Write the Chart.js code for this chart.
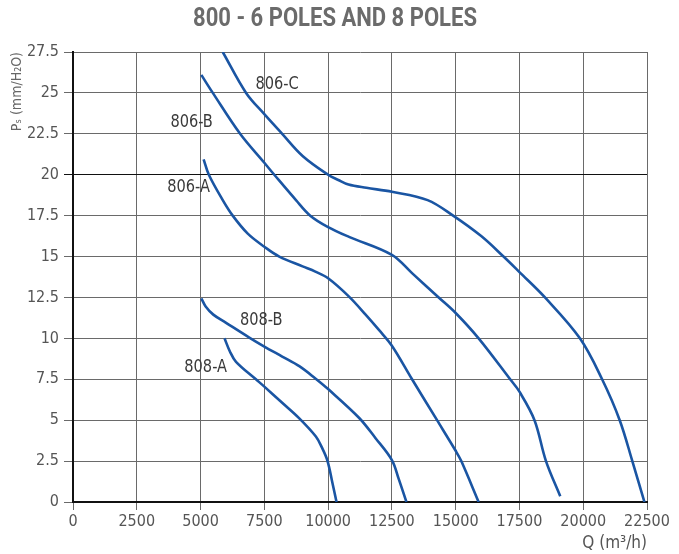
<!DOCTYPE html>
<html>
<head>
<meta charset="utf-8">
<script src="https://cdn.jsdelivr.net/npm/chart.js@4.4.1/dist/chart.umd.min.js"></script>
<style>
  html, body { margin: 0; padding: 0; background: #fff; }
</style>
</head>
<body>
<canvas id="fanChart" width="679" height="554"></canvas>
<script>
// 800 series fan curves, static pressure vs. air flow
const chartTitle = "800 - 6 POLES AND 8 POLES";
const xTicks = [0, 2500, 5000, 7500, 10000, 12500, 15000, 17500, 20000, 22500];
const yTicks = [0, 2.5, 5, 7.5, 10, 12.5, 15, 17.5, 20, 22.5, 25, 27.5];

const curveNames = ["806-C", "806-B", "806-A", "808-B", "808-A"];

// Q (m3/h)
const q806C = [5870, 6785, 7500, 8200, 9000, 10000, 10400, 10800, 11500, 12500, 13900, 14900, 16000, 16875, 17500, 18500, 19870, 20740, 21430, 21925, 22400];
const q806B = [5030, 5480, 6550, 7500, 7890, 8740, 9300, 10000, 10820, 12500, 13300, 14335, 15000, 15900, 17135, 17500, 18090, 18540, 19100];
const q806A = [5120, 5325, 5870, 6260, 6850, 7500, 8085, 9000, 9500, 10000, 10820, 11470, 12000, 12500, 13290, 14270, 15000, 15220, 15900];
const q808B = [5030, 5200, 5500, 6000, 6910, 7500, 8200, 8870, 9500, 10000, 11210, 11860, 12500, 12770, 13070];
const q808A = [5940, 6150, 6390, 7170, 7500, 8200, 8870, 9520, 9750, 9975, 10170, 10330];

// Ps (mm H2O)
const ps806C = [27.5, 25, 23.7, 22.5, 21.15, 20, 19.68, 19.4, 19.2, 18.96, 18.45, 17.5, 16.25, 15, 14.05, 12.5, 10, 7.5, 5, 2.5, 0];
const ps806B = [26.1, 25, 22.5, 20.73, 20, 18.45, 17.5, 16.8, 16.2, 15.1, 13.97, 12.5, 11.55, 10, 7.5, 6.74, 5, 2.5, 0.35];
const ps806A = [20.94, 20, 18.45, 17.5, 16.4, 15.6, 15, 14.4, 14.08, 13.67, 12.55, 11.45, 10.5, 9.55, 7.5, 5, 3.13, 2.5, 0];
const ps808B = [12.45, 11.95, 11.45, 10.95, 10.05, 9.5, 8.89, 8.3, 7.55, 6.9, 5.15, 3.9, 2.56, 1.4, 0];
const ps808A = [10.0, 9.2, 8.57, 7.5, 7.05, 6.06, 5.11, 4.0, 3.35, 2.52, 1.16, 0];

// where each curve name sits, in axis units
const labelQ = [8000, 4650, 4530, 7380, 5200];
const labelPs = [25.5, 23.2, 19.2, 11.1, 8.25];

const allQ = [q806C, q806B, q806A, q808B, q808A];
const allPs = [ps806C, ps806B, ps806A, ps808B, ps808A];

const narrow = "'Liberation Sans Narrow', 'DejaVu Sans Condensed', 'Roboto', sans-serif";
const blue = "#1a55a3";

const datasets = curveNames.map((name, i) => ({
  label: name,
  data: allQ[i].map((q, j) => ({ x: q, y: allPs[i][j] })),
  showLine: true,
  borderColor: blue,
  borderWidth: 2.6,
  pointRadius: 0,
  tension: 0.35,
  fill: false,
}));

// condensed bold heading, squeezed to a fixed width
const headingPlugin = {
  id: "heading",
  afterDraw(chart) {
    const ctx = chart.ctx;
    ctx.save();
    ctx.font = "bold 26px Roboto, 'DejaVu Sans', sans-serif";
    ctx.fillStyle = "#6b6b6b";
    ctx.textAlign = "center";
    ctx.textBaseline = "middle";
    const w = ctx.measureText(chartTitle).width;
    const sx = 284 / w;
    ctx.translate(335, 19);
    ctx.scale(sx, 1);
    ctx.fillText(chartTitle, 0, 0);
    ctx.restore();
  },
};

// curve names drawn next to each line
const curveLabelPlugin = {
  id: "curveLabels",
  afterDatasetsDraw(chart) {
    const ctx = chart.ctx;
    const xs = chart.scales.x;
    const ys = chart.scales.y;
    ctx.save();
    ctx.font = "18px " + narrow;
    ctx.fillStyle = "#3a3a3a";
    ctx.textAlign = "center";
    ctx.textBaseline = "middle";
    curveNames.forEach((name, i) => {
      const px = xs.getPixelForValue(labelQ[i]);
      const py = ys.getPixelForValue(labelPs[i]);
      ctx.save();
      ctx.translate(px, py);
      ctx.scale(0.9, 1);
      ctx.fillText(name, 0, 0);
      ctx.restore();
    });
    ctx.restore();
  },
};

const fanChart = new Chart(document.getElementById("fanChart"), {
  type: "scatter",
  data: { datasets: datasets },
  plugins: [curveLabelPlugin, headingPlugin],
  options: {
    responsive: false,
    animation: false,
    layout: { padding: { top: 52, right: 32, bottom: 0, left: 0 } },
    plugins: {
      legend: { display: false },
      tooltip: { enabled: false },
      title: { display: false },
    },
    scales: {
      x: {
        type: "linear",
        min: 0,
        max: 22500,
        afterBuildTicks: (s) => { s.ticks = xTicks.map((v) => ({ value: v })); },
        afterFit: (s) => { s.height = 52; },
        ticks: {
          color: "#555",
          font: { family: narrow, size: 16 },
          padding: 2,
          maxRotation: 0,
          callback: (v) => String(v),
        },
        grid: { color: "#6a6a6a", lineWidth: 1, tickLength: 8 },
        border: { color: "#111", width: 2 },
        title: {
          display: true,
          text: "Q (m³/h)",
          align: "end",
          color: "#555",
          font: { family: narrow, size: 17 },
          padding: { top: 2, bottom: 0 },
        },
      },
      y: {
        type: "linear",
        min: 0,
        max: 27.5,
        afterBuildTicks: (s) => { s.ticks = yTicks.map((v) => ({ value: v })); },
        afterFit: (s) => { s.width = 73; },
        ticks: {
          color: "#555",
          font: { family: narrow, size: 16 },
          padding: 5,
          callback: (v) => String(v),
        },
        grid: {
          color: (c) => (c.tick && c.tick.value === 20 ? "#111" : "#6a6a6a"),
          lineWidth: 1,
          tickLength: 9,
        },
        border: { color: "#111", width: 2 },
        title: {
          display: true,
          text: "Pₛ (mm/H₂O)",
          align: "end",
          color: "#666",
          font: { family: narrow, size: 14 },
          padding: { top: 9, bottom: 0 },
        },
      },
    },
  },
});
</script>
</body>
</html>
